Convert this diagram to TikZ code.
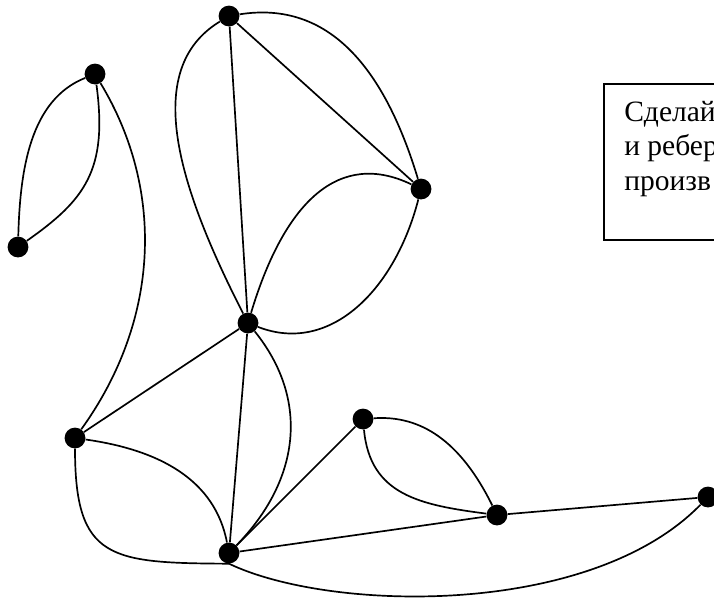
\documentclass[tikz,border=0pt]{standalone}
\usepackage{fontspec}
\setmainfont{Liberation Serif}

\begin{document}
\begin{tikzpicture}[
    x=0.025cm, y=-0.025cm,
    vert/.style={circle, fill=black, inner sep=0pt, minimum size=0.52cm},
    arista/.style={line width=1.2pt},
    caja/.style={draw, line width=1.2pt, anchor=north west,
      minimum width=4cm, minimum height=3.9cm},
    texto/.style={font=\fontsize{21}{24.5}\selectfont, align=left,
      anchor=base west, inner sep=0pt}
  ]
    \clip (0,0) rectangle (714,601);

    % vertices
    \node[vert] (top)   at (229,16)  {};
    \node[vert] (hook)  at (95,74)   {};
    \node[vert] (foot)  at (18,247)  {};
    \node[vert] (right) at (421,189) {};
    \node[vert] (hub)   at (248,323) {};
    \node[vert] (left)  at (75,438)  {};
    \node[vert] (low)   at (363,419) {};
    \node[vert] (base)  at (229,553) {};
    \node[vert] (mid)   at (497,515) {};
    \node[vert] (end)   at (708,497) {};

    % straight edges
    \draw[arista] (top) -- (hub);
    \draw[arista] (top) -- (right);
    \draw[arista] (hub) -- (left);
    \draw[arista] (hub) -- (base);
    \draw[arista] (base) -- (low);
    \draw[arista] (base) -- (mid);
    \draw[arista] (mid) -- (end);

    % curved edges
    \draw[arista] (top) .. controls (330,0) and (385,70) .. (right);
    \draw[arista] (top) .. controls (140,70) and (180,190) .. (hub);
    \draw[arista] (hub) .. controls (285,200) and (340,150) .. (right);
    \draw[arista] (right) .. controls (395,290) and (330,355) .. (hub);
    \draw[arista] (hook) .. controls (30,100) and (20,170) .. (foot);
    \draw[arista] (hook) .. controls (108,170) and (85,200) .. (foot);
    \draw[arista] (hook) .. controls (165,190) and (160,320) .. (left);
    \draw[arista] (hub) .. controls (310,400) and (300,480) .. (base);
    \draw[arista] (left) .. controls (160,450) and (215,480) .. (base);
    \draw[arista] (left) .. controls (75,560) and (110,563) .. (base.south);
    \draw[arista] (base.south) .. controls (330,612) and (590,618) .. (end);
    \draw[arista] (low) .. controls (420,415) and (460,440) .. (mid);
    \draw[arista] (low) .. controls (370,495) and (420,505) .. (mid);

    % note box
    \node[caja] (caja) at (603,83) {};
    \node[texto] (nota) at (624,190) {Сделай\\и ребер\\произв};
\end{tikzpicture}
\end{document}
